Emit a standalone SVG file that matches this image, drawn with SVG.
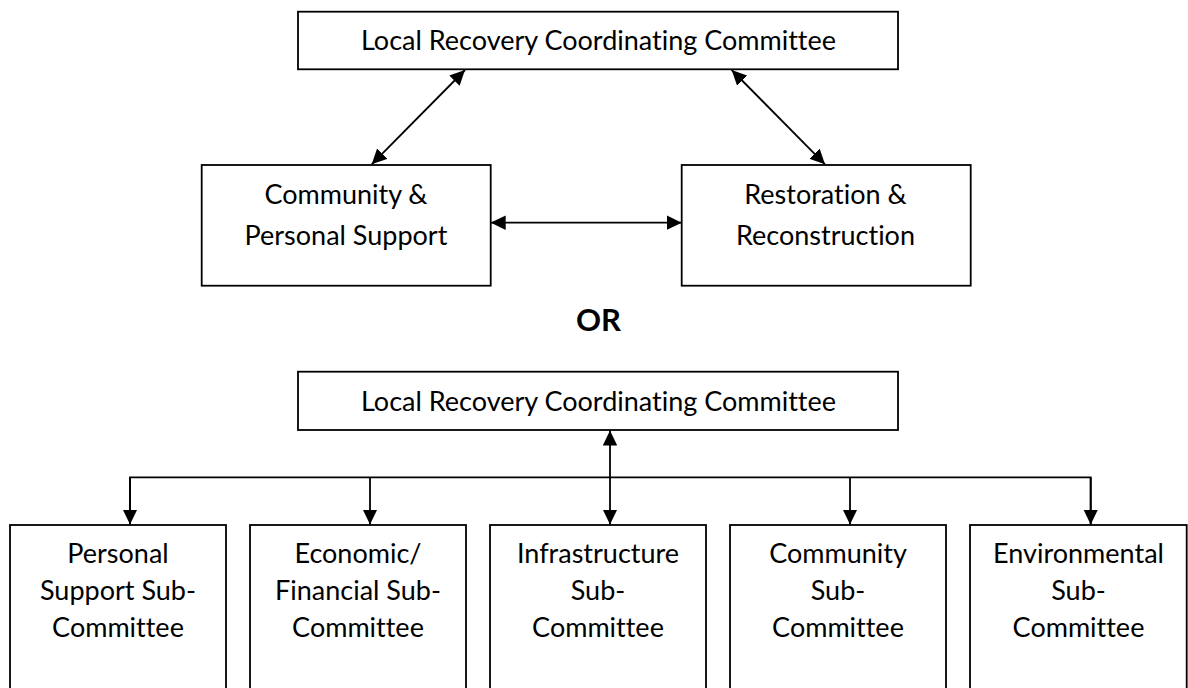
<svg xmlns="http://www.w3.org/2000/svg" width="1188" height="688" viewBox="0 0 1188 688">
<style>
  .box { fill: #ffffff; stroke: #000000; stroke-width: 1.8; }
  .lbl { font-family: Lato, "Liberation Sans", sans-serif; font-size: 27px; fill: #000000; text-anchor: middle; font-variant-ligatures: none; font-feature-settings: "liga" 0, "clig" 0; }
  .or { font-family: Lato, "Liberation Sans", sans-serif; font-size: 31px; font-weight: bold; fill: #000000; text-anchor: middle; }
  .con { fill: none; stroke: #000000; stroke-width: 1.8; }
  .arr { marker-end: url(#ah); }
  .arr2 { marker-start: url(#ah); marker-end: url(#ah); }
</style>
<defs>
  <marker id="ah" viewBox="0 0 15 14.5" refX="15" refY="7.25" markerWidth="15" markerHeight="14.5" markerUnits="userSpaceOnUse" orient="auto-start-reverse">
    <path d="M0,0 L15,7.25 L0,14.5 z" fill="#000000"/>
  </marker>
</defs>
<rect width="1188" height="688" fill="#ffffff"/>

<g id="connectors">
  <line class="con arr2" x1="465" y1="70" x2="371.7" y2="164.3"/>
  <line class="con arr2" x1="731.7" y1="70" x2="825" y2="164.3"/>
  <line class="con arr2" x1="490.7" y1="222.7" x2="681.7" y2="222.7"/>
  <line class="con arr2" x1="610" y1="430.5" x2="610" y2="524.5"/>
  <polyline class="con" points="130,524.5 130,477.3 1090.7,477.3 1090.7,524.5"/>
  <line class="con arr" x1="130" y1="477.3" x2="130" y2="524.5"/>
  <line class="con arr" x1="370" y1="477.3" x2="370" y2="524.5"/>
  <line class="con arr" x1="850" y1="477.3" x2="850" y2="524.5"/>
  <line class="con arr" x1="1090.7" y1="477.3" x2="1090.7" y2="524.5"/>
</g>

<g id="lrcc-top">
  <rect class="box" x="298" y="11.7" width="600" height="57.6"/>
  <text class="lbl" x="598.5" y="50">Local Recovery Coordinating Committee</text>
</g>
<g id="community-personal-support">
  <rect class="box" x="201.7" y="165" width="289" height="120.7"/>
  <text class="lbl" x="346" y="204">Community &amp;</text>
  <text class="lbl" x="346" y="245">Personal Support</text>
</g>
<g id="restoration-reconstruction">
  <rect class="box" x="681.7" y="165" width="289" height="120.7"/>
  <text class="lbl" x="825.5" y="204">Restoration &amp;</text>
  <text class="lbl" x="825.5" y="245">Reconstruction</text>
</g>
<g id="or-label">
  <text class="or" x="598.5" y="330.5">OR</text>
</g>
<g id="lrcc-bottom">
  <rect class="box" x="298" y="371.7" width="600" height="58.3"/>
  <text class="lbl" x="598.5" y="410.7">Local Recovery Coordinating Committee</text>
</g>
<g id="personal-support-sub">
  <rect class="box" x="10" y="525" width="216" height="180"/>
  <text class="lbl" x="118" y="563.3">Personal</text>
  <text class="lbl" x="118" y="600">Support Sub-</text>
  <text class="lbl" x="118" y="636.5">Committee</text>
</g>
<g id="economic-financial-sub">
  <rect class="box" x="250" y="525" width="216" height="180"/>
  <text class="lbl" x="358" y="563.3">Economic/</text>
  <text class="lbl" x="358" y="600">Financial Sub-</text>
  <text class="lbl" x="358" y="636.5">Committee</text>
</g>
<g id="infrastructure-sub">
  <rect class="box" x="490" y="525" width="216" height="180"/>
  <text class="lbl" x="598" y="563.3">Infrastructure</text>
  <text class="lbl" x="598" y="600">Sub-</text>
  <text class="lbl" x="598" y="636.5">Committee</text>
</g>
<g id="community-sub">
  <rect class="box" x="730" y="525" width="216" height="180"/>
  <text class="lbl" x="838" y="563.3">Community</text>
  <text class="lbl" x="838" y="600">Sub-</text>
  <text class="lbl" x="838" y="636.5">Committee</text>
</g>
<g id="environmental-sub">
  <rect class="box" x="970" y="525" width="216.7" height="180"/>
  <text class="lbl" x="1078.5" y="563.3">Environmental</text>
  <text class="lbl" x="1078.5" y="600">Sub-</text>
  <text class="lbl" x="1078.5" y="636.5">Committee</text>
</g>
</svg>
